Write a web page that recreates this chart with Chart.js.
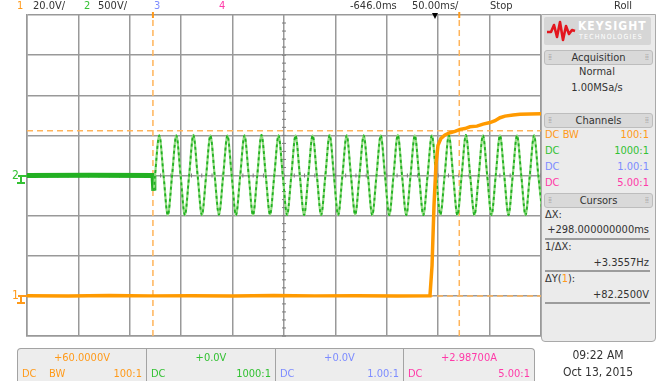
<!DOCTYPE html>
<html>
<head>
<meta charset="utf-8">
<script src="https://cdn.jsdelivr.net/npm/chart.js@4.4.1/dist/chart.umd.min.js"></script>
<style>
  body { margin: 0; width: 658px; height: 381px; background: #fff; position: relative; overflow: hidden;
         font-family: "Liberation Sans Narrow", "DejaVu Sans Condensed", "Liberation Sans", sans-serif; font-size: 11px; color: #333; }
  #scope { position: absolute; left: 0; top: 0; }
  .t { position: absolute; white-space: nowrap; line-height: 12px; }
  .c1 { color: #ff9a1a; } .c2 { color: #33c133; } .c3 { color: #7d8cff; } .c4 { color: #ff3aa8; }
  #panel { position: absolute; left: 541px; top: 14px; width: 113px; height: 326px; background: #ebebeb;
           border: 1px solid #a9a9a9; border-radius: 0 0 4px 4px; }
  .hdr { position: absolute; left: 544px; width: 107px; height: 13px; background: #d9d9d9; border: 1px solid #bdbdbd;
         border-radius: 3px; text-align: center; line-height: 13px; color: #333; }
  .hdr .g { position: absolute; top: 0; color: #aaa; font-size: 9px; letter-spacing: -1px; }
  .row { position: absolute; left: 545px; width: 104px; height: 12px; line-height: 12px; }
  .row .r { position: absolute; right: 0; top: 0; }
  .rule { position: absolute; left: 545px; width: 105px; height: 2px; background: #9c9c9c; }
  .box { position: absolute; top: 348px; height: 34px; background: #ededed; border: 1px solid #a3a3a3; border-bottom: none; }
  .box .v { position: absolute; top: 2px; left: 0; right: 0; text-align: center; }
  .box .a { position: absolute; top: 18px; left: 4px; }
  .box .b { position: absolute; top: 18px; right: 4px; }
  .gnd { position: absolute; }
</style>
</head>
<body>
<canvas id="scope" width="658" height="381"></canvas>

<!-- top status line -->
<div class="t c1" style="left:17px;top:0px">1</div>
<div class="t" style="left:33px;top:0px">20.0V/</div>
<div class="t c2" style="left:84px;top:0px">2</div>
<div class="t" style="left:98px;top:0px">500V/</div>
<div class="t c3" style="left:154px;top:0px">3</div>
<div class="t c4" style="left:219px;top:0px">4</div>
<div class="t" style="left:350px;top:0px">-646.0ms</div>
<div class="t" style="left:412px;top:0px">50.00ms/</div>
<div class="t" style="left:490px;top:0px">Stop</div>
<div class="t" style="left:614px;top:0px">Roll</div>

<!-- ground markers -->
<div class="t c2" style="left:12px;top:169px;font-size:12px">2</div>
<div class="gnd" style="left:18px;top:175px;width:9px;height:2px;background:#33c133"></div>
<div class="gnd" style="left:20px;top:176px;width:2px;height:6px;background:#33c133"></div>
<div class="gnd" style="left:17px;top:182px;width:8px;height:2px;background:#33c133"></div>
<div class="t c1" style="left:12px;top:289px;font-size:12px">1</div>
<div class="gnd" style="left:18px;top:295px;width:9px;height:2px;background:#ff9a1a"></div>
<div class="gnd" style="left:20px;top:296px;width:2px;height:6px;background:#ff9a1a"></div>
<div class="gnd" style="left:17px;top:302px;width:8px;height:2px;background:#ff9a1a"></div>

<!-- right panel -->
<div id="panel"></div>
<div style="position:absolute;left:544px;top:17px;width:107px;height:28px;background:#d6d6d6;border-radius:2px"></div>
<svg style="position:absolute;left:546px;top:20px" width="30" height="22">
  <polyline points="1,12 5,12 8,5 11,17 14,2 17,20 20,6 23,14 26,10 29,11" fill="none" stroke="#e3161e" stroke-width="2.6" stroke-linejoin="round"/>
</svg>
<div class="t" style="left:578px;top:20px;color:#fff;font-weight:bold;font-size:12px;letter-spacing:1px">KEYSIGHT</div>
<div class="t" style="left:579px;top:33px;color:#fff;font-size:7px;letter-spacing:1.2px;line-height:8px">TECHNOLOGIES</div>

<div class="hdr" style="top:50px"><span class="g" style="left:3px">⁞⁞</span>Acquisition<span class="g" style="right:4px">⁞⁞</span></div>
<div class="row" style="top:66px;text-align:center">Normal</div>
<div class="row" style="top:82px;text-align:center">1.00MSa/s</div>

<div class="hdr" style="top:113px"><span class="g" style="left:3px">⁞⁞</span>Channels<span class="g" style="right:4px">⁞⁞</span></div>
<div class="row c1" style="top:129px">DC BW<span class="r">100:1</span></div>
<div class="row c2" style="top:145px">DC<span class="r">1000:1</span></div>
<div class="row c3" style="top:161px">DC<span class="r">1.00:1</span></div>
<div class="row c4" style="top:177px">DC<span class="r">5.00:1</span></div>

<div class="hdr" style="top:193px"><span class="g" style="left:3px">⁞⁞</span>Cursors<span class="g" style="right:4px">⁞⁞</span></div>
<div class="row" style="top:209px">ΔX:</div>
<div class="row" style="top:224px"><span class="r">+298.000000000ms</span></div>
<div class="rule" style="top:238px"></div>
<div class="row" style="top:241px">1/ΔX:</div>
<div class="row" style="top:257px"><span class="r">+3.3557Hz</span></div>
<div class="rule" style="top:270px"></div>
<div class="row" style="top:273px">ΔY(<span class="c1">1</span>):</div>
<div class="row" style="top:289px"><span class="r">+82.2500V</span></div>
<div class="rule" style="top:302px"></div>

<!-- bottom channel boxes -->
<div class="box c1" style="left:17px;width:128px;border-radius:4px 0 0 0"><div class="v">+60.0000V</div><div class="a">DC&nbsp;&nbsp;&nbsp;&nbsp;BW</div><div class="b">100:1</div></div>
<div class="box c2" style="left:146px;width:128px"><div class="v">+0.0V</div><div class="a">DC</div><div class="b">1000:1</div></div>
<div class="box c3" style="left:275px;width:127px"><div class="v">+0.0V</div><div class="a">DC</div><div class="b">1.00:1</div></div>
<div class="box c4" style="left:403px;width:130px;border-radius:0 4px 0 0"><div class="v">+2.98700A</div><div class="a">DC</div><div class="b">5.00:1</div></div>
<div class="t" style="left:560px;top:349px;width:76px;text-align:center;font-size:12px">09:22 AM</div>
<div class="t" style="left:560px;top:366px;width:76px;text-align:center;font-size:12px">Oct 13, 2015</div>

<script>
// --- scope settings ---
const timePerDiv = 50;            // ms/div
const timeSpan = 500;             // 10 divisions
const ch1VoltsPerDiv = 20;        // channel 1
const ch1OffsetDiv = -3;          // ground marker 3 div below centre
const ch2VoltsPerDiv = 500;       // channel 2
const ch2OffsetDiv = 0;

// --- channel 1 (orange): time in ms, volts ---
const ch1Times = [0, 40, 80, 120, 160, 200, 240, 280, 320, 360, 392,
                  394, 395.9, 397.9, 399.8, 402.7, 406.6, 411.5, 416.3, 421.2, 426, 430.9, 437.7, 443.6, 450.4, 455.3,
                  460.1, 465, 472.8, 479.6, 489.3, 500];
const ch1Volts = [0.1, -0.1, 0.2, 0, 0.1, -0.1, 0.2, 0, 0.1, -0.1, 0.1,
                  15, 45, 66, 75, 78.5, 80.2, 81.3, 82.0, 83.0, 83.4, 84.3, 84.6, 85.6, 86.4, 87.3,
                  88.8, 89.6, 90.2, 90.5, 90.6, 90.8];

// --- channel 2 (green): flat part before the signal appears ---
const ch2FlatTimes = [0, 60, 122.6, 123.4];
const ch2FlatVolts = [0, 2, 0, -190];

// --- channel 2 (green): samples every quarter period from the first zero crossing ---
const ch2Start = 124.56;          // ms
const ch2Step = 4.1425;           // ms (60 Hz / 4)
const ch2Volts = [
  0, 500, 0, -495,  0, 500, 0, -495,  0, 505, 0, -495,  0, 500, 0, -490,
  0, 500, 0, -495,  0, 500, 0, -495,  0, 505, 0, -490,  0, 500, 0, -495,
  0, 500, 0, -495,  0, 500, 0, -495,  0, 505, 0, -495,  0, 500, 0, -490,
  0, 500, 0, -495,  0, 500, 0, -495,  0, 505, 0, -495,  0, 500, 0, -495,
  0, 500, 0, -490,  0, 500, 0, -495,  0, 505, 0, -495,  0, 500, 0, -495,
  0, 500, 0, -495,  0, 500, 0, -495,  0, 500, 0, -495
];

// --- cursors ---
const cursorX = [122.5, 420.5];   // ms
const cursorY = [82.25, 0];       // volts on channel 1

// --- marks above the grid ---
const triggerTime = 396.9;        // ms

const ch1Div = v => v / ch1VoltsPerDiv + ch1OffsetDiv;
const ch2Div = v => v / ch2VoltsPerDiv + ch2OffsetDiv;

const ch1Points = ch1Times.map((t, i) => ({ x: t, y: ch1Div(ch1Volts[i]) }));
const ch2FlatPoints = ch2FlatTimes.map((t, i) => ({ x: t, y: ch2Div(ch2FlatVolts[i]) }));
const ch2SinePoints = [{ x: ch2FlatTimes[ch2FlatTimes.length - 1], y: ch2Div(ch2FlatVolts[ch2FlatVolts.length - 1]) }]
  .concat(ch2Volts.map((v, i) => ({ x: ch2Start + i * ch2Step, y: ch2Div(v) })));

const gridColor = '#999999';
const cursorStyle = { borderColor: '#ffb45a', borderWidth: 1.5, borderDash: [6, 4], pointRadius: 0 };

const datasets = [
  { data: ch1Points, borderColor: '#ff9a00', borderWidth: 3.5, pointRadius: 0 },
  { data: ch2SinePoints, borderColor: '#22b022', borderWidth: 1.8, borderDash: [3, 3], pointRadius: 0, cubicInterpolationMode: 'monotone' },
  { data: ch2SinePoints, borderColor: '#92dc82', borderWidth: 2.2, pointRadius: 0, cubicInterpolationMode: 'monotone' },
  { data: ch2FlatPoints, borderColor: '#22b022', borderWidth: 5, pointRadius: 0 },
  ...cursorX.map(t => Object.assign({ data: [{ x: t, y: -4 }, { x: t, y: 4 }] }, cursorStyle)),
  ...cursorY.map(v => Object.assign({ data: [{ x: 0, y: ch1Div(v) }, { x: timeSpan, y: ch1Div(v) }] }, cursorStyle))
];

// small ticks on the centre axes and markers above the grid
const scopeDecor = {
  id: 'scopeDecor',
  beforeDatasetsDraw(chart) {
    const { ctx, scales: { x, y } } = chart;
    const cx = x.getPixelForValue(timeSpan / 2);
    const cy = y.getPixelForValue(0);
    ctx.save();
    ctx.strokeStyle = '#7a7a7a';
    ctx.lineWidth = 1;
    ctx.beginPath();
    for (let t = 0; t <= timeSpan; t += timePerDiv / 5) {
      const px = x.getPixelForValue(t);
      ctx.moveTo(px, cy - 2); ctx.lineTo(px, cy + 2);
    }
    for (let d = -4; d <= 4; d += 0.2) {
      const py = y.getPixelForValue(d);
      ctx.moveTo(cx - 2, py); ctx.lineTo(cx + 2, py);
    }
    ctx.stroke();
    ctx.restore();
  },
  afterDraw(chart) {
    const { ctx, scales: { x }, chartArea } = chart;
    ctx.save();
    ctx.fillStyle = '#ff9a1a';
    cursorX.forEach(t => {
      const px = x.getPixelForValue(t);
      ctx.fillRect(px - 1, chartArea.top - 3, 2, 6);
    });
    const tx = x.getPixelForValue(triggerTime);
    ctx.fillStyle = '#000';
    ctx.beginPath();
    ctx.moveTo(tx - 3, chartArea.top - 2);
    ctx.lineTo(tx + 3, chartArea.top - 2);
    ctx.lineTo(tx, chartArea.top + 4);
    ctx.closePath();
    ctx.fill();
    ctx.restore();
  }
};

new Chart(document.getElementById('scope'), {
  type: 'line',
  data: { datasets },
  options: {
    responsive: false,
    animation: false,
    devicePixelRatio: 1,
    parsing: false,
    layout: { padding: { left: 27, right: 117, top: 15, bottom: 45 } },
    plugins: { legend: { display: false }, tooltip: { enabled: false } },
    elements: { line: { tension: 0 } },
    scales: {
      x: {
        type: 'linear', min: 0, max: timeSpan,
        ticks: { display: false, stepSize: timePerDiv },
        grid: { color: gridColor, lineWidth: 1.5, drawTicks: false },
        border: { display: true, color: gridColor, width: 1.5 }
      },
      y: {
        type: 'linear', min: -4, max: 4,
        ticks: { display: false, stepSize: 1 },
        grid: { color: gridColor, lineWidth: 1.5, drawTicks: false },
        border: { display: true, color: gridColor, width: 1.5 }
      }
    }
  },
  plugins: [scopeDecor]
});
</script>
</body>
</html>
